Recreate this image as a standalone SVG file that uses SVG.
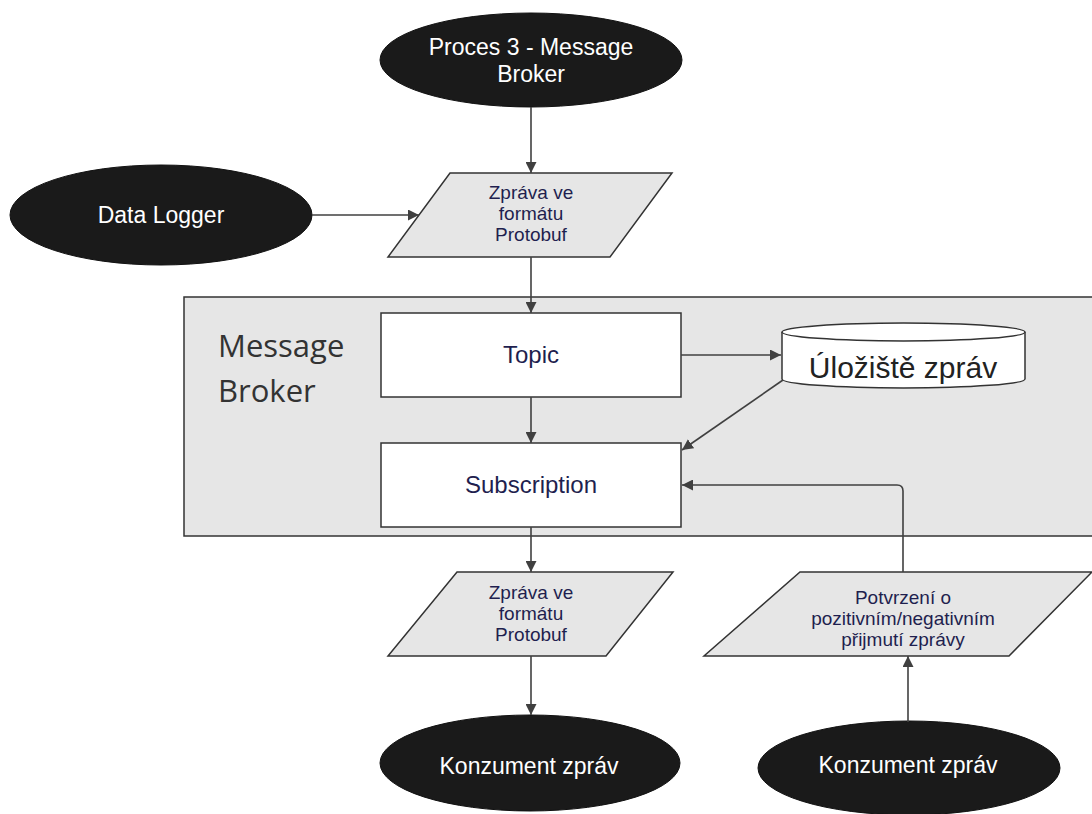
<svg xmlns="http://www.w3.org/2000/svg" width="1092" height="814" viewBox="0 0 1092 814">
  <style>
    .terminal { fill: #1a1a1a; stroke: #111; stroke-width: 1; }
    .terminal-text { font-family: "Liberation Sans", Arial, sans-serif; font-size: 23px; fill: #ffffff; text-anchor: middle; }
    .io { fill: #e6e6e6; stroke: #333333; stroke-width: 1.5; }
    .io-text { font-family: "Liberation Sans", Arial, sans-serif; font-size: 19px; fill: #1f1f4f; text-anchor: middle; }
    .box { fill: #ffffff; stroke: #333333; stroke-width: 1.5; }
    .box-text { font-family: "Liberation Sans", Arial, sans-serif; font-size: 24px; fill: #1f1f4f; text-anchor: middle; }
    .container { fill: #e6e6e6; stroke: #333333; stroke-width: 1.5; }
    .container-text { font-family: "Open Sans", sans-serif; font-size: 31px; fill: #333333; }
    .store { fill: #ffffff; stroke: #333333; stroke-width: 1.5; }
    .store-text { font-family: "Liberation Sans", Arial, sans-serif; font-size: 30px; fill: #222222; text-anchor: middle; }
    .conn { fill: none; stroke: #404040; stroke-width: 1.6; marker-end: url(#arrow); }
  </style>
  <defs>
    <marker id="arrow" markerUnits="userSpaceOnUse" markerWidth="12" markerHeight="11" refX="11" refY="5.5" orient="auto">
      <path d="M0,0 L11,5.5 L0,11 Z" fill="#404040"/>
    </marker>
  </defs>

  <rect width="1092" height="814" fill="#ffffff"/>

  <!-- Message Broker container -->
  <g id="message-broker">
    <rect class="container" x="184" y="297" width="1000" height="239"/>
    <text class="container-text" x="218" y="357">Message</text>
    <text class="container-text" x="218" y="402">Broker</text>
  </g>

  <g id="proces3">
    <ellipse class="terminal" cx="531" cy="60" rx="151" ry="47"/>
    <text class="terminal-text" x="531" y="55">Proces 3 - Message</text>
    <text class="terminal-text" x="531" y="82">Broker</text>
  </g>

  <g id="data-logger">
    <ellipse class="terminal" cx="161" cy="215" rx="151" ry="50"/>
    <text class="terminal-text" x="161" y="223">Data Logger</text>
  </g>

  <g id="msg-in">
    <polygon class="io" points="450,173 672,173 610,257 388,257"/>
    <text class="io-text" x="531" y="199">Zpráva ve</text>
    <text class="io-text" x="531" y="220">formátu</text>
    <text class="io-text" x="531" y="241">Protobuf</text>
  </g>

  <g id="topic">
    <rect class="box" x="381" y="313" width="300" height="84"/>
    <text class="box-text" x="531" y="363">Topic</text>
  </g>

  <g id="storage">
    <path class="store" d="M782,332 A121.5,9 0 0 1 1025,332 V379 A121.5,9 0 0 1 782,379 Z"/>
    <path class="store" d="M782,332 A121.5,9 0 0 0 1025,332"/>
    <text class="store-text" x="903" y="378">Úložiště zpráv</text>
  </g>

  <g id="subscription">
    <rect class="box" x="381" y="443" width="300" height="84"/>
    <text class="box-text" x="531" y="493">Subscription</text>
  </g>

  <g id="msg-out">
    <polygon class="io" points="457,572 673,572 606,656 388,656"/>
    <text class="io-text" x="531" y="599">Zpráva ve</text>
    <text class="io-text" x="531" y="620">formátu</text>
    <text class="io-text" x="531" y="641">Protobuf</text>
  </g>

  <g id="ack">
    <polygon class="io" points="800,572 1092,572 1009,656 704,656"/>
    <text class="io-text" x="903" y="604">Potvrzení o</text>
    <text class="io-text" x="903" y="625">pozitivním/negativním</text>
    <text class="io-text" x="903" y="646">přijmutí zprávy</text>
  </g>

  <g id="consumer-left">
    <ellipse class="terminal" cx="530" cy="763" rx="150" ry="48"/>
    <text class="terminal-text" x="529" y="774">Konzument zpráv</text>
  </g>

  <g id="consumer-right">
    <ellipse class="terminal" cx="909" cy="768" rx="151" ry="47"/>
    <text class="terminal-text" x="908" y="773">Konzument zpráv</text>
  </g>

  <!-- connectors -->
  <g id="connectors">
    <path class="conn" d="M531,107 V173"/>
    <path class="conn" d="M312,215 H419"/>
    <path class="conn" d="M531,257 V313"/>
    <path class="conn" d="M681,355 H781"/>
    <path class="conn" d="M531,397 V443"/>
    <path class="conn" d="M783,380 L682,450"/>
    <path class="conn" d="M531,527 V572"/>
    <path class="conn" d="M903,572 V491 Q903,485 897,485 H682"/>
    <path class="conn" d="M531,656 V715"/>
    <path class="conn" d="M908,722 V656"/>
  </g>
</svg>
